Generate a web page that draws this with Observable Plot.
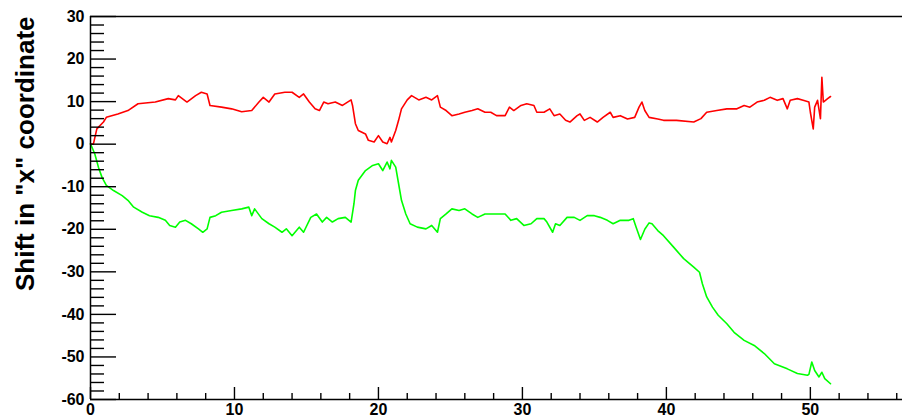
<!DOCTYPE html>
<html><head><meta charset="utf-8">
<script src="https://cdn.jsdelivr.net/npm/d3@7"></script>
<script src="https://cdn.jsdelivr.net/npm/@observablehq/plot@0.6"></script>
<style>body{margin:0;background:#fff}</style>
</head><body><div id="chart"></div>
<script>
const redX = [0, 0.2, 0.44, 0.9, 1.1, 1.9, 2.6, 3.3, 4.5, 5.4, 5.9, 6.1, 6.7, 7.3, 7.7, 8.1, 8.3, 9.1, 9.8, 10.5, 11.2, 11.7, 12.0, 12.4, 12.8, 13.5, 14.0, 14.5, 14.8, 15.2, 15.6, 15.9, 16.2, 16.5, 17.0, 17.5, 18.1, 18.2, 18.4, 18.6, 19.1, 19.3, 19.7, 20.0, 20.3, 20.6, 20.8, 20.9, 21.2, 21.4, 21.6, 22.0, 22.3, 22.8, 23.3, 23.7, 24.1, 24.3, 24.7, 25.1, 25.6, 26.0, 26.5, 26.9, 27.4, 27.8, 28.2, 28.8, 29.1, 29.4, 29.9, 30.3, 30.8, 31.0, 31.5, 31.9, 32.2, 32.6, 33.0, 33.3, 33.8, 34.0, 34.3, 34.7, 35.2, 35.6, 36.1, 36.3, 36.8, 37.3, 37.8, 38.1, 38.3, 38.5, 38.8, 39.4, 39.8, 40.7, 41.9, 42.4, 42.8, 43.5, 44.2, 44.9, 45.4, 45.8, 46.3, 46.8, 47.2, 47.7, 48.1, 48.4, 48.6, 49.1, 49.5, 49.9, 50.0, 50.2, 50.3, 50.5, 50.7, 50.8, 50.9, 51.2, 51.4];
const redY = [0, 0, 3.6, 5.2, 6.3, 7.1, 7.9, 9.5, 9.9, 10.7, 10.4, 11.4, 9.9, 11.4, 12.2, 11.8, 9.1, 8.7, 8.3, 7.6, 7.9, 9.9, 11.0, 9.9, 11.8, 12.2, 12.2, 11.0, 11.8, 9.9, 8.3, 7.9, 9.9, 9.5, 9.9, 9.1, 10.4, 9.1, 4.8, 3.2, 2.4, 0.9, 0.5, 2.0, 0.5, 0.1, 1.6, 0.5, 3.2, 5.6, 8.3, 10.4, 11.4, 10.4, 11.0, 10.4, 11.4, 8.7, 7.9, 6.7, 7.1, 7.5, 7.9, 8.3, 7.5, 7.5, 6.7, 6.7, 8.7, 7.9, 9.1, 9.5, 9.1, 7.5, 7.5, 8.3, 6.7, 7.1, 5.6, 5.2, 6.7, 7.1, 5.6, 6.3, 5.2, 6.3, 7.5, 6.3, 6.7, 5.9, 6.3, 8.7, 9.9, 7.9, 6.3, 5.9, 5.6, 5.6, 5.2, 6.0, 7.5, 7.9, 8.3, 8.3, 9.1, 8.7, 9.9, 10.3, 11.0, 10.3, 10.7, 8.3, 10.3, 10.7, 10.3, 9.9, 7.5, 3.6, 8.7, 10.3, 6.0, 15.7, 9.9, 10.7, 11.2];

const greenX = [0, 0.3, 0.55, 0.8, 1.1, 1.6, 2.2, 2.6, 3.0, 3.6, 4.1, 4.7, 5.2, 5.5, 5.9, 6.2, 6.6, 7.0, 7.5, 7.8, 8.1, 8.3, 8.7, 9.1, 9.8, 10.5, 11.0, 11.2, 11.4, 11.9, 12.4, 12.8, 13.3, 13.6, 14.0, 14.5, 14.8, 15.3, 15.7, 16.1, 16.4, 16.8, 17.2, 17.7, 18.1, 18.3, 18.4, 18.6, 19.1, 19.6, 20.0, 20.3, 20.6, 20.8, 20.9, 21.2, 21.4, 21.6, 21.9, 22.2, 22.7, 23.3, 23.7, 24.1, 24.3, 24.7, 25.1, 25.6, 26.0, 26.5, 26.9, 27.4, 27.8, 28.8, 29.2, 29.6, 30.1, 30.6, 31.0, 31.5, 31.7, 32.1, 32.3, 32.6, 33.1, 33.6, 34.0, 34.5, 35.0, 35.4, 35.9, 36.3, 36.8, 37.4, 37.7, 37.9, 38.2, 38.5, 38.8, 39.0, 39.4, 39.8, 40.5, 41.2, 41.9, 42.3, 42.5, 42.8, 43.2, 43.6, 44.2, 44.7, 45.4, 46.1, 46.8, 47.5, 48.4, 49.1, 49.8, 49.9, 50.1, 50.3, 50.6, 50.8, 51.0, 51.4];
const greenY = [0.1, -2.3, -5.4, -7.8, -9.7, -10.9, -12.1, -13.2, -14.8, -16.0, -16.8, -17.2, -17.9, -19.1, -19.5, -18.3, -17.9, -18.7, -19.9, -20.7, -19.9, -17.2, -16.8, -16.0, -15.6, -15.2, -14.8, -16.8, -15.2, -17.5, -18.7, -19.5, -20.7, -19.9, -21.5, -19.5, -20.7, -17.2, -16.4, -18.3, -17.2, -18.3, -17.5, -17.2, -18.3, -14.0, -10.9, -8.5, -6.2, -5.0, -4.6, -6.2, -4.2, -5.8, -3.8, -5.4, -9.3, -13.2, -16.4, -18.7, -19.5, -19.9, -19.1, -20.7, -17.5, -16.4, -15.2, -15.6, -15.2, -16.4, -17.2, -16.4, -16.4, -16.4, -17.9, -17.5, -19.1, -18.7, -17.5, -17.5, -18.3, -20.7, -18.7, -19.1, -17.2, -17.2, -17.9, -16.8, -16.8, -17.2, -17.9, -18.7, -17.9, -17.9, -17.5, -19.5, -22.4, -20.0, -18.5, -18.7, -20.3, -21.5, -24.2, -26.9, -28.9, -30.1, -32.8, -35.9, -38.3, -40.2, -42.2, -44.2, -46.1, -47.3, -49.2, -51.6, -52.8, -53.9, -54.3, -54.1, -51.2, -53.2, -54.7, -53.6, -55.1, -56.3];

const yMajorTicks = [-60, -50, -40, -30, -20, -10, 0, 10, 20, 30];
const xMajorTicks = [0, 10, 20, 30, 40, 50];
const yMinorTicks = d3.range(-60, 31, 2).filter(v => v % 10 !== 0);
const xMinorTicks = d3.range(0, 57, 2).filter(v => v % 10 !== 0);
const yLabel = 'Shift in "x" coordinate';

const red = redX.map((x, i) => ({x, y: redY[i]}));
const green = greenX.map((x, i) => ({x, y: greenY[i]}));

const W = 902, H = 417, ML = 90, MT = 16, MB = 18, MR = 0;
const fw = W - ML - MR, fh = H - MT - MB;
const font = "'Liberation Sans', Arial, Helvetica, sans-serif";

const plot = Plot.plot({
  width: W, height: H,
  marginLeft: ML, marginTop: MT, marginBottom: MB, marginRight: MR,
  style: {fontFamily: font, fontWeight: "bold", background: "#fff", color: "#000"},
  x: {domain: [0, 56.4]},
  y: {domain: [-60, 30]},
  marks: [
    Plot.line(red, {x: "x", y: "y", stroke: "#ff0000", strokeWidth: 1.6}),
    Plot.line(green, {x: "x", y: "y", stroke: "#00ff00", strokeWidth: 1.6}),
    Plot.tickY(yMajorTicks, {y: d => d, insetRight: fw - 26, stroke: "#000", strokeWidth: 1.4}),
    Plot.tickY(yMinorTicks, {y: d => d, insetRight: fw - 14, stroke: "#000", strokeWidth: 1.4}),
    Plot.tickX(xMajorTicks, {x: d => d, insetTop: fh - 12, stroke: "#000", strokeWidth: 1.4}),
    Plot.tickX(xMinorTicks, {x: d => d, insetTop: fh - 6, stroke: "#000", strokeWidth: 1.4}),
    Plot.ruleY([30], {stroke: "#000", strokeWidth: 1.5}),
    Plot.ruleY([-60], {stroke: "#000", strokeWidth: 1.5}),
    Plot.ruleX([0], {stroke: "#000", strokeWidth: 1.5}),
    Plot.axisY(yMajorTicks, {tickSize: 0, tickPadding: 6, tickFormat: d => String(d), fontSize: 16, fontWeight: "bold", label: null}),
    Plot.axisX(xMajorTicks, {tickSize: 0, tickPadding: 4, tickFormat: d => String(d), fontSize: 16, fontWeight: "bold", label: null}),
    Plot.text([yLabel], {text: d => d, frameAnchor: "top-left", rotate: -90, textAnchor: "end", lineAnchor: "bottom", dx: -57, fontSize: 26, fontWeight: "bold", fill: "#000"})
  ]
});
document.getElementById("chart").appendChild(plot);
</script>
</body></html>
